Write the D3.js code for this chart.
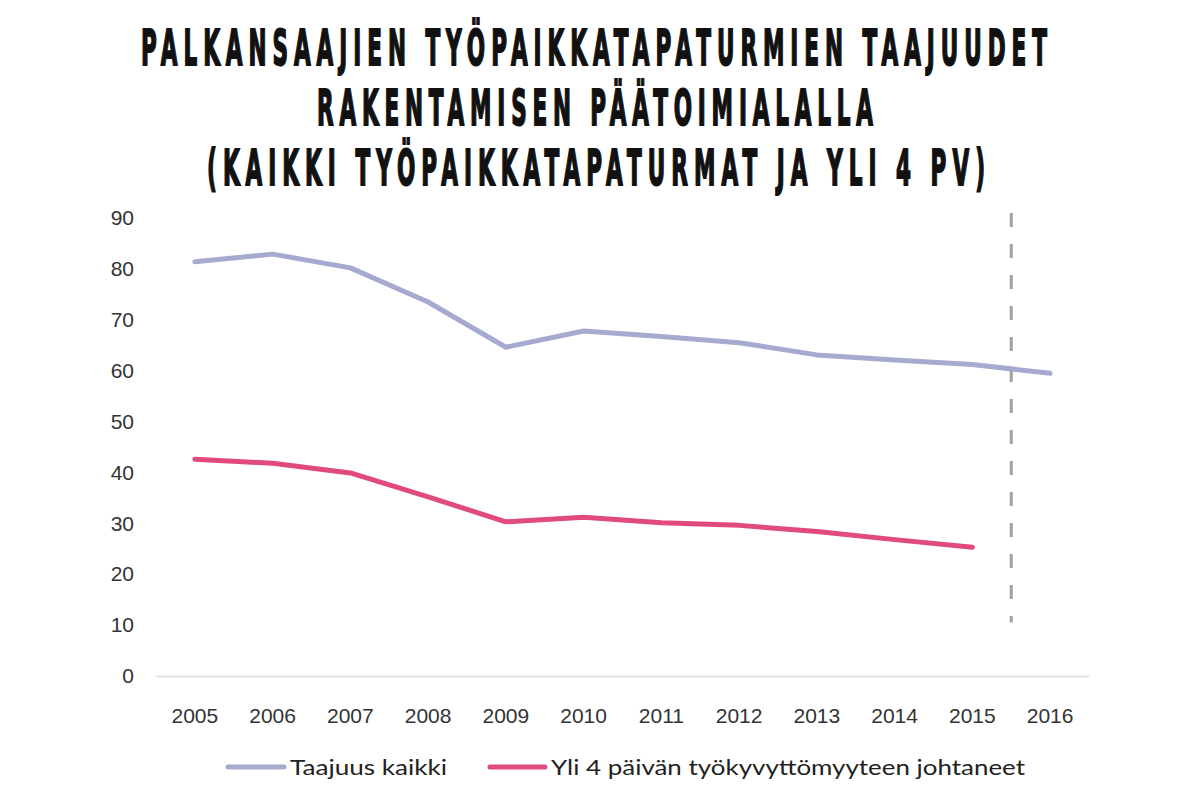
<!DOCTYPE html>
<html>
<head>
<meta charset="utf-8">
<script src="https://cdn.jsdelivr.net/npm/d3@7"></script>
<style>
  body { margin: 0; background: #fff; }
  svg { display: block; }
</style>
</head>
<body>
<div id="main"></div>
<script>
// data
var years = ["2005", "2006", "2007", "2008", "2009", "2010", "2011", "2012", "2013", "2014", "2015", "2016"];
var taajuusKaikki = [81.4, 82.9, 80.2, 73.5, 64.6, 67.8, 66.7, 65.5, 63.1, 62.1, 61.2, 59.5];
var yli4pv = [42.6, 41.8, 39.9, 35.2, 30.3, 31.2, 30.1, 29.6, 28.4, 26.8, 25.3, null];
var yTicks = [0, 10, 20, 30, 40, 50, 60, 70, 80, 90];
var titleLines = [
    "PALKANSAAJIEN TYÖPAIKKATAPATURMIEN TAAJUUDET",
    "RAKENTAMISEN PÄÄTOIMIALALLA",
    "(KAIKKI TYÖPAIKKATAPATURMAT JA YLI 4 PV)"
];
var legendLabels = ["Taajuus kaikki", "Yli 4 päivän työkyvyttömyyteen johtaneet"];
var dividerAfter = "2015";
var dividerRange = [10.5, 91];

var ctx = {
    w: 1187,
    h: 789,
    left: 156,
    right: 1089,
    top: 218,
    bottom: 676,
    colors: ["#a6a9d0", "#e14a7e"],
};

var svg = d3.select("#main").append("svg")
    .attr("width", ctx.w)
    .attr("height", ctx.h);

// title, condensed by a horizontal scale and stretched to the picture's widths
var titleGeom = [
    { cx: 594, y: 65, width: 906 },
    { cx: 595, y: 125, width: 556 },
    { cx: 596, y: 185, width: 778 },
];
var sx = 0.44;
svg.append("g").selectAll("text")
    .data(titleLines)
    .enter()
    .append("text")
    .attr("transform", function (d, i) {
        return "translate(" + titleGeom[i].cx + "," + titleGeom[i].y + ") scale(" + sx + ",1)";
    })
    .attr("text-anchor", "middle")
    .attr("textLength", function (d, i) { return titleGeom[i].width / sx; })
    .attr("lengthAdjust", "spacing")
    .style("font-family", "'DejaVu Sans', sans-serif")
    .style("font-weight", "bold")
    .style("font-size", "49px")
    .style("fill", "#111")
    .style("stroke", "#111")
    .style("stroke-width", "2px")
    .text(function (d) { return d; });

var x = d3.scaleBand().domain(years).range([ctx.left, ctx.right]);
var y = d3.scaleLinear().domain([0, 90]).range([ctx.bottom, ctx.top]);

// y axis labels
var yAxis = svg.append("g")
    .attr("transform", "translate(134,0)")
    .call(d3.axisLeft(y).tickValues(yTicks).tickSize(0).tickPadding(0));
yAxis.select(".domain").remove();
yAxis.selectAll("text")
    .style("font-family", "'Liberation Sans', Arial, sans-serif")
    .style("font-size", "21px")
    .style("fill", "#333");

// x axis: light baseline and year labels
var xAxis = svg.append("g")
    .attr("transform", "translate(0," + ctx.bottom + ")")
    .call(d3.axisBottom(x).tickSize(0).tickPadding(32));
xAxis.select(".domain")
    .attr("stroke", "#e3e3e3")
    .attr("stroke-width", 2);
xAxis.selectAll("text")
    .style("font-family", "'Liberation Sans', Arial, sans-serif")
    .style("font-size", "21px")
    .style("fill", "#333");

// dashed divider between 2015 and 2016
svg.append("line")
    .attr("x1", x(dividerAfter) + x.bandwidth())
    .attr("x2", x(dividerAfter) + x.bandwidth())
    .attr("y1", y(dividerRange[1]))
    .attr("y2", y(dividerRange[0]))
    .attr("stroke", "#a0a0a0")
    .attr("stroke-width", 3)
    .attr("stroke-dasharray", "14,17");

var line = d3.line()
    .defined(function (d) { return d.v != null; })
    .x(function (d) { return x(d.year) + x.bandwidth() / 2; })
    .y(function (d) { return y(d.v); });

var series = [taajuusKaikki, yli4pv];
series.forEach(function (vals, i) {
    var pts = years.map(function (yr, j) { return { year: yr, v: vals[j] }; });
    svg.append("path")
        .datum(pts)
        .attr("fill", "none")
        .attr("stroke", ctx.colors[i])
        .attr("stroke-width", 5)
        .attr("stroke-linejoin", "round")
        .attr("stroke-linecap", "round")
        .attr("d", line);
});

// legend
var legendGeom = [
    { x0: 228, x1: 284, tx: 290, tw: 157 },
    { x0: 490, x1: 545, tx: 551, tw: 474 },
];
var legend = svg.append("g");
legendLabels.forEach(function (label, i) {
    var g = legendGeom[i];
    legend.append("line")
        .attr("x1", g.x0).attr("x2", g.x1)
        .attr("y1", 767).attr("y2", 767)
        .attr("stroke", ctx.colors[i])
        .attr("stroke-width", 5)
        .attr("stroke-linecap", "round");
    legend.append("text")
        .attr("x", g.tx)
        .attr("y", 775)
        .attr("textLength", g.tw)
        .attr("lengthAdjust", "spacingAndGlyphs")
        .style("font-family", "Lato, 'Open Sans', sans-serif")
        .style("font-size", "21px")
        .style("fill", "#222")
        .text(label);
});
</script>
</body>
</html>
